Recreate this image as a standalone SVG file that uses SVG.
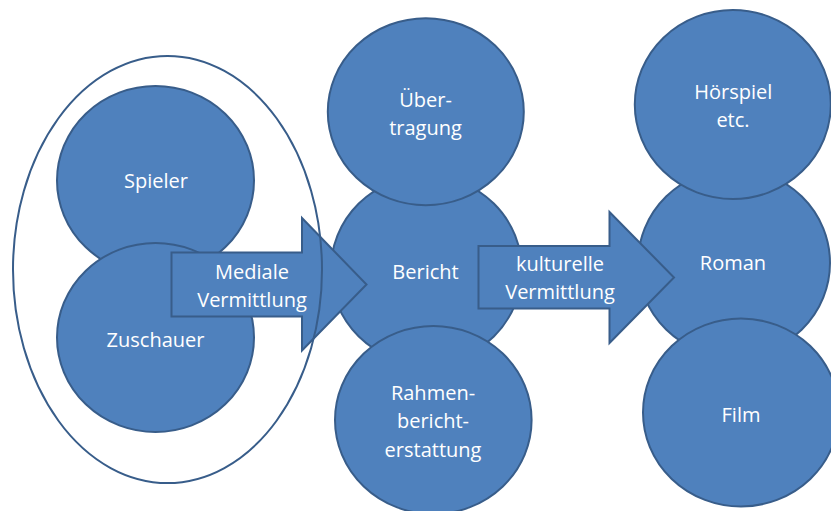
<svg xmlns="http://www.w3.org/2000/svg" width="831" height="511" viewBox="0 0 831 511">
<style>
.n{fill:#4F81BD;stroke:#385D8A;stroke-width:2}
.t{font-family:"Open Sans","Liberation Sans",sans-serif;font-size:20px;fill:#FFFFFF;text-anchor:middle}
.o{fill:none;stroke:#385D8A;stroke-width:2}
</style>
<rect width="831" height="511" fill="#FFFFFF"/>
<g id="spieler"><ellipse class="n" cx="155.5" cy="180.5" rx="98.5" ry="94.5"/><text class="t" x="156" y="188">Spieler</text></g>
<g id="zuschauer"><ellipse class="n" cx="155.5" cy="337.5" rx="98.5" ry="94.5"/><text class="t" x="155.5" y="346.5">Zuschauer</text></g>
<g id="bericht"><ellipse class="n" cx="426.3" cy="270" rx="95.5" ry="94"/><text class="t" x="425.5" y="278.5">Bericht</text></g>
<g id="uebertragung"><ellipse class="n" cx="425.8" cy="111.7" rx="98" ry="93.5"/><text class="t" x="425.5" y="107">Über-</text><text class="t" x="425.5" y="135">tragung</text></g>
<g id="rahmen"><ellipse class="n" cx="433.3" cy="420" rx="98.3" ry="94"/><text class="t" x="433" y="399.5">Rahmen-</text><text class="t" x="433" y="428">bericht-</text><text class="t" x="433" y="456.5">erstattung</text></g>
<g id="roman"><ellipse class="n" cx="734" cy="263" rx="96" ry="94"/><text class="t" x="733" y="270">Roman</text></g>
<g id="hoerspiel"><ellipse class="n" cx="732.8" cy="104.5" rx="98" ry="94.5"/><text class="t" x="733.3" y="99.3">Hörspiel</text><text class="t" x="733" y="127.3">etc.</text></g>
<g id="film"><ellipse class="n" cx="741" cy="412.5" rx="98" ry="94"/><text class="t" x="741" y="421.5">Film</text></g>
<g id="connectors">
<g id="mediale"><polygon class="n" points="171.5,252.5 302,252.5 302,218 366.5,284.5 302,350.5 302,316.5 171.5,316.5"/><text class="t" x="252" y="279">Mediale</text><text class="t" x="252" y="306.5">Vermittlung</text></g>
<g id="kulturelle"><polygon class="n" points="478.5,246 609.5,246 609.5,212 674,277.5 609.5,343 609.5,308.5 478.5,308.5"/><text class="t" x="560" y="270.5">kulturelle</text><text class="t" x="560" y="299">Vermittlung</text></g>
</g>
<g id="gruppe"><ellipse class="o" cx="167.5" cy="269.5" rx="154.5" ry="213.5"/></g>
</svg>
